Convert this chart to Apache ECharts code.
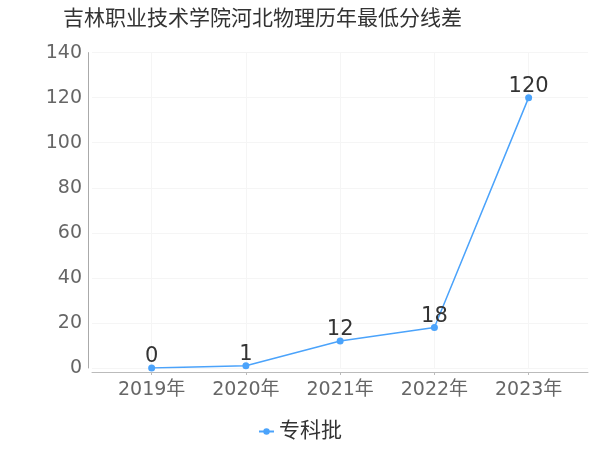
<!DOCTYPE html>
<html><head><meta charset="utf-8">
<script src="https://cdn.jsdelivr.net/npm/echarts@6/dist/echarts.min.js"></script>
<style>html,body{margin:0;padding:0;background:#fff}#c{width:600px;height:450px}</style>
</head><body><div id="c"></div>
<script>
var categories = ['2019年', '2020年', '2021年', '2022年', '2023年'];
var values = [0, 1, 12, 18, 120];
var seriesName = '专科批';
var titleText = '吉林职业技术学院河北物理历年最低分线差';

var chart = echarts.init(document.getElementById('c'));
var idx = categories.map(function (c, i) { return i; });
var font = "'DejaVu Sans', 'Noto Sans CJK SC', sans-serif";
chart.setOption({
  animation: false,
  textStyle: { fontFamily: font },
  title: { text: titleText, left: 58, top: 4, textStyle: { fontSize: 21, fontWeight: 'normal', color: '#333', fontFamily: font } },
  legend: { bottom: 3, left: 'center', itemWidth: 15, itemHeight: 8, itemGap: 5, textStyle: { fontSize: 21, color: '#333', fontFamily: font }, data: [seriesName] },
  grid: { left: 92, right: 12, top: 52.6, bottom: 82, containLabel: false },
  xAxis: {
    type: 'value', min: -0.633, max: 4.63, interval: 1, offset: 4,
    axisLine: { show: true, onZero: false, lineStyle: { color: '#bbb' } },
    axisTick: { show: true, length: 3, customValues: idx, lineStyle: { color: '#bbb' } },
    axisLabel: { customValues: idx, fontSize: 19, color: '#666', margin: 9, formatter: function (v) { return categories[Math.round(v)] || ''; } },
    splitLine: { show: true, lineStyle: { color: '#f5f5f5' } }
  },
  yAxis: {
    type: 'value', min: 0, max: 140, interval: 20, offset: 4,
    axisLine: { show: true, onZero: false, lineStyle: { color: '#aaa' } },
    axisTick: { show: false },
    axisLabel: { fontSize: 19, color: '#666', margin: 6 },
    splitLine: { show: true, lineStyle: { color: '#f5f5f5' } }
  },
  series: [{
    name: seriesName, type: 'line',
    data: values.map(function (v, i) { return [i, v]; }),
    symbol: 'circle', symbolSize: 7,
    itemStyle: { color: '#4ba3fb' },
    lineStyle: { color: '#4ba3fb', width: 1.5 },
    label: { show: true, position: 'top', fontSize: 21, color: '#333', distance: -3, formatter: function (p) { return p.value[1]; } }
  }]
});
</script></body></html>
